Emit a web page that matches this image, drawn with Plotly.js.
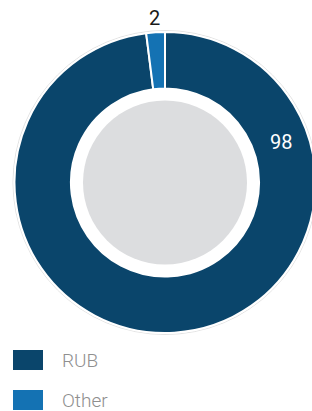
<!DOCTYPE html>
<html>
<head>
<meta charset="utf-8">
<script src="https://cdn.plot.ly/plotly-3.0.1.min.js"></script>
<style>
html,body{margin:0;padding:0;overflow:hidden;background:#fff;width:312px;height:411px;}
#chart{width:320px;height:411px;}
</style>
</head>
<body>
<div id="chart"></div>
<script>
const categories = ["RUB", "Other"];
const values = [98, 2];
const colors = ["#0a456b", "#1472b3"];

const W = 320, H = 411;
const cx = 165, cy = 182.5, R = 150.5;
const px = x => x / W;
const py = y => 1 - y / H;

const trace = {
  type: "pie",
  labels: categories,
  values: values,
  sort: false,
  direction: "clockwise",
  rotation: 0,
  hole: 0.625,
  textinfo: "none",
  hoverinfo: "label+value",
  marker: {colors: colors, line: {color: "#ffffff", width: 2}},
  domain: {x: [px(cx - R), px(cx + R)], y: [py(cy + R), py(cy - R)]},
  showlegend: false
};

const gr = 82;
const shapes = [
  {type: "circle", xref: "paper", yref: "paper", layer: "below",
   x0: px(cx - gr), x1: px(cx + gr), y0: py(cy + gr), y1: py(cy - gr),
   fillcolor: "#dcdddf", line: {width: 0}},
  {type: "circle", xref: "paper", yref: "paper", layer: "below",
   x0: px(cx - R - 1.5), x1: px(cx + R + 1.5), y0: py(cy + R + 1.5), y1: py(cy - R - 1.5),
   fillcolor: "rgba(0,0,0,0)", line: {width: 1, color: "#e2e2e2"}}
];

// custom legend
const legY = [360, 400];
categories.forEach((c, i) => {
  shapes.push({type: "rect", xref: "paper", yref: "paper",
    x0: px(13), x1: px(43), y0: py(legY[i] + 10), y1: py(legY[i] - 10),
    fillcolor: colors[i], line: {width: 0}});
});

const font = "Roboto, 'DejaVu Sans', sans-serif";
const annotations = [
  {text: String(values[1]), xref: "paper", yref: "paper", x: px(154), y: py(17.5),
   showarrow: false, xanchor: "center", yanchor: "middle",
   font: {family: font, size: 20, color: "#1a1a1a"}},
  {text: String(values[0]), xref: "paper", yref: "paper", x: px(281), y: py(142),
   showarrow: false, xanchor: "center", yanchor: "middle",
   font: {family: font, size: 20, color: "#ffffff"}}
];
categories.forEach((c, i) => {
  annotations.push({text: c, xref: "paper", yref: "paper", x: px(60), y: py(legY[i]),
    showarrow: false, xanchor: "left", yanchor: "middle",
    font: {family: font, size: 19, weight: 300, color: "#8f8f8f"}});
});

const layout = {
  width: W, height: H,
  margin: {l: 0, r: 0, t: 0, b: 0, pad: 0},
  paper_bgcolor: "#ffffff",
  plot_bgcolor: "#ffffff",
  shapes: shapes,
  annotations: annotations,
  showlegend: false
};

Plotly.newPlot("chart", [trace], layout, {displayModeBar: false, staticPlot: true});
</script>
</body>
</html>
